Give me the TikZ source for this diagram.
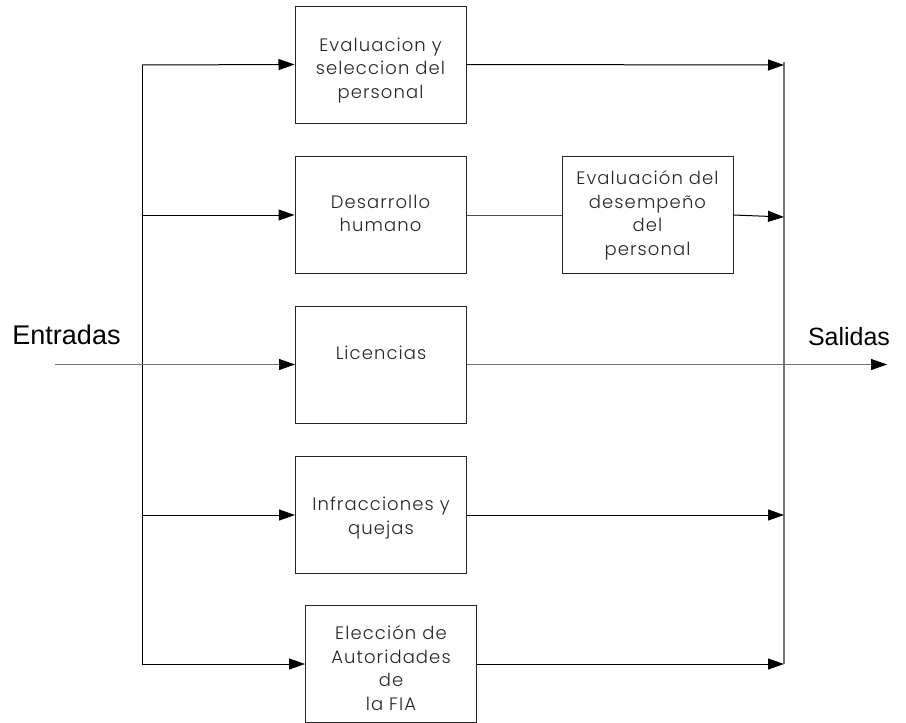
\documentclass[tikz,border=0pt]{standalone}
\usepackage{fontspec}
\setmainfont{Liberation Sans}
\newfontfamily\boxfont[LetterSpace=6]{Poppins Light}
\usetikzlibrary{arrows.meta}
% multi-line box caption, raised by #1 around the node centre
\newcommand\boxtext[2]{\raisebox{#1}[0pt][0pt]{\begin{tabular}{@{}c@{}}#2\end{tabular}}}
\begin{document}
\begin{tikzpicture}[x=1pt,y=-1pt,
  block/.style={draw=black!85, line width=1pt, minimum width=171pt, minimum height=117pt,
    inner sep=0pt, font=\boxfont\fontsize{18}{23.5}\selectfont, text=black!85},
  wire/.style={draw=black, line width=1pt},
  bus/.style={draw=black!55, line width=1.5pt},
  tip/.style={-{Triangle[length=16pt,width=11pt,color=black]}},
  feed/.style={wire, tip},
  label/.style={font=\fontsize{#1}{28}\selectfont, inner sep=0pt}]
  \useasboundingbox (0,0) rectangle (906,723);

  % processes
  \node[block] (b1) at (380.5,64.5) {\boxtext{-10pt}{Evaluacion y\\seleccion del\\personal}};
  \node[block] (b2) at (380.5,215) {\boxtext{-4.5pt}{Desarrollo\\humano}};
  \node[block] (b3) at (647.5,215) {\boxtext{-4.5pt}{Evaluación del\\desempeño\\del\\personal}};
  \node[block] (b4) at (381,364.5) {\boxtext{5pt}{Licencias}};
  \node[block] (b5) at (381,515) {\boxtext{-7pt}{Infracciones y\\quejas}};
  \node[block] (b6) at (391,664) {\boxtext{-10.5pt}{Elección de\\Autoridades\\de\\la FIA}};

  % inputs / outputs
  \node[label=27] (ent) at (66.5,335) {Entradas};
  \node[label=25] (sal) at (849,337) {Salidas};

  % left distribution bus
  \coordinate (lt) at (142,65);
  \coordinate (lb) at (142,664);
  \draw[wire] (lt) -- (lb);
  \draw[feed] (lt) -- (b1.west);
  \draw[feed] (lt |- b2.west) -- (b2.west);
  \draw[feed] (lt |- b5.west) -- (b5.west);
  \draw[feed] (lb) -- (b6.west);

  % main input line through to Licencias
  \coordinate (in) at (55,364.5);
  \draw[feed, draw=black!55] (in) -- (b4.west);

  % right collection bus
  \coordinate (rt) at (784,62);
  \coordinate (rb) at (784,664);
  \draw[bus] (rt) -- (rb);
  \draw[feed] (b1.east) -- (784,65);
  \draw[wire, draw=black!70] (b2.east) -- (b3.west);
  \coordinate (r3) at (784,217);
  \draw[feed] (b3.east) -- (r3);
  \draw[feed] (b5.east) -- (rb |- b5.east);
  \draw[feed] (b6.east) -- (rb);

  % output line
  \coordinate (out) at (887,364.5);
  \draw[feed, draw=black!55] (b4.east) -- (out);
\end{tikzpicture}
\end{document}
